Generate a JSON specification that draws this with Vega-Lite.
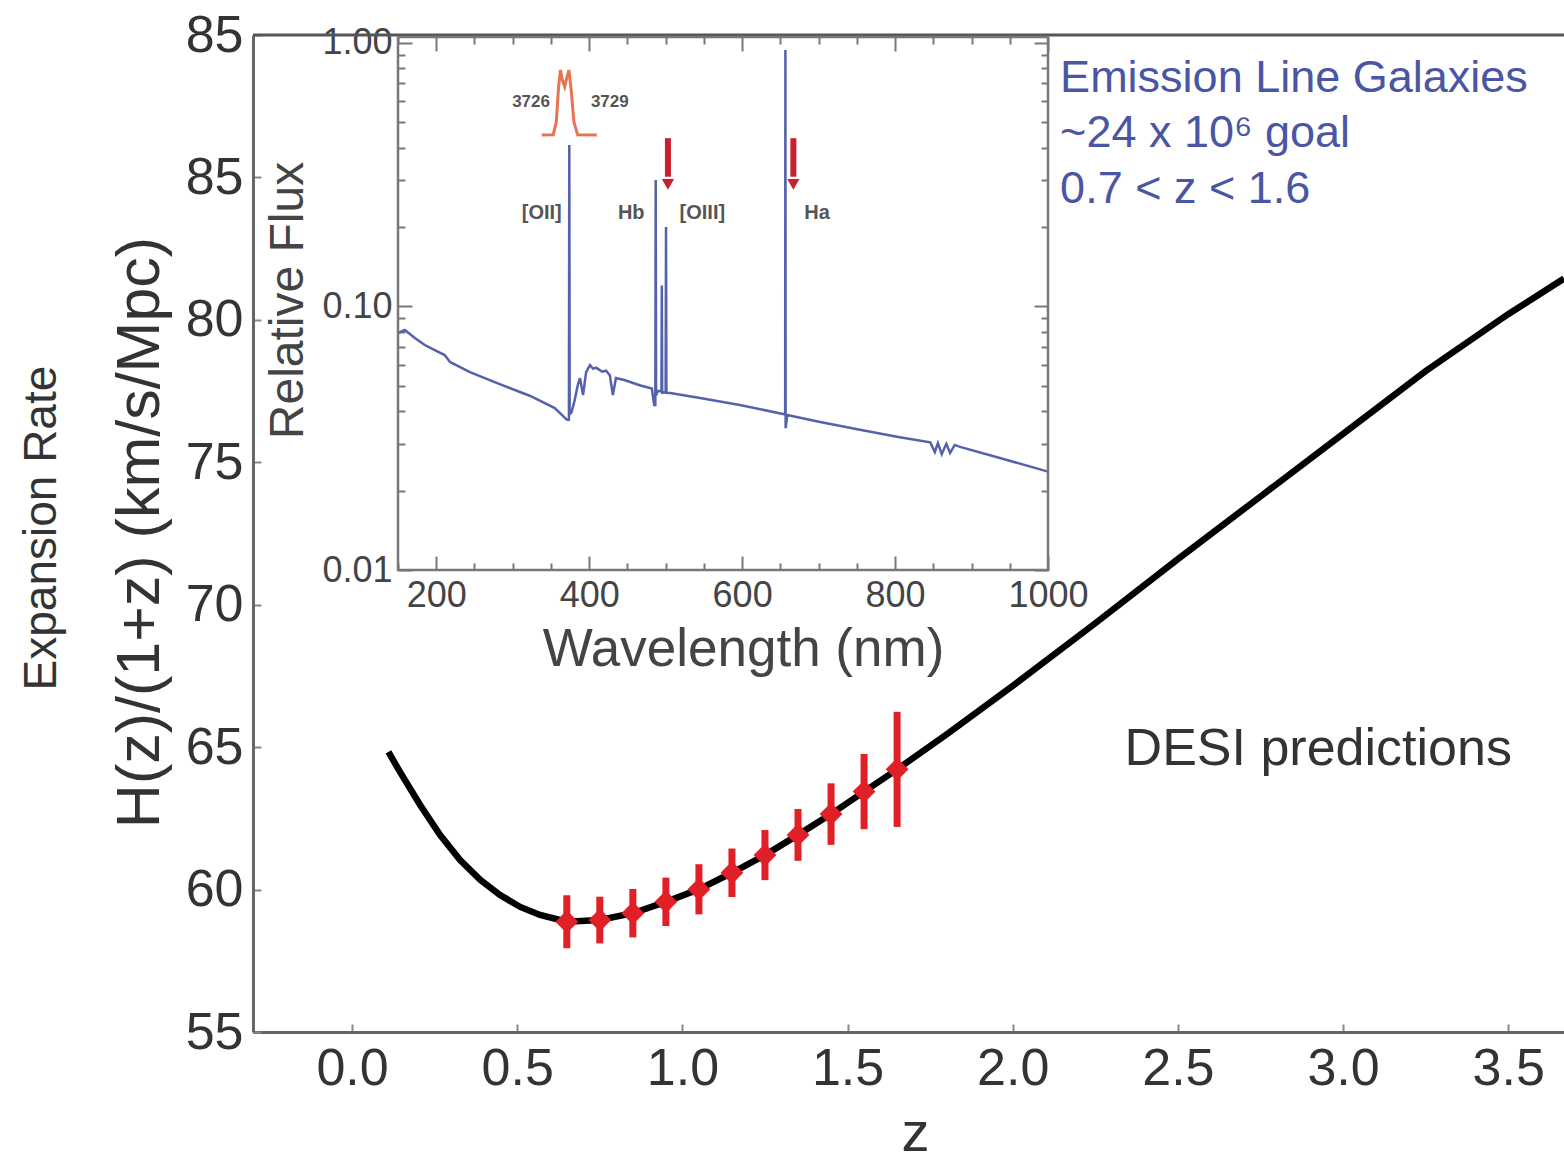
{
  "$schema": "https://vega.github.io/schema/vega-lite/v6.json",
  "width": 1311,
  "height": 997,
  "autosize": {"type": "none"},
  "padding": {"left": 253, "top": 35, "right": 0, "bottom": 130},
  "background": "white",
  "config": {
    "view": {"stroke": null},
    "font": "Liberation Sans",
    "axis": {"grid": false, "labelFont": "Liberation Sans", "titleFont": "Liberation Sans", "labelOverlap": false, "labelFlush": false, "titleFontWeight": "normal"}
  },
  "resolve": {"scale": {"x": "independent", "y": "independent"}, "axis": {"x": "independent", "y": "independent"}},
  "datasets": {
    "curve": [
      {"z": 0.11, "H": 64.83}, {"z": 0.145, "H": 64.13}, {"z": 0.206, "H": 62.97}, {"z": 0.266, "H": 61.92},
      {"z": 0.327, "H": 61.04}, {"z": 0.388, "H": 60.34}, {"z": 0.448, "H": 59.81}, {"z": 0.509, "H": 59.39},
      {"z": 0.569, "H": 59.11}, {"z": 0.65, "H": 58.87}, {"z": 0.75, "H": 58.93}, {"z": 0.85, "H": 59.17},
      {"z": 0.95, "H": 59.57}, {"z": 1.05, "H": 60.01}, {"z": 1.15, "H": 60.59}, {"z": 1.25, "H": 61.21},
      {"z": 1.35, "H": 61.92}, {"z": 1.45, "H": 62.65}, {"z": 1.55, "H": 63.44}, {"z": 1.65, "H": 64.22},
      {"z": 1.8, "H": 65.45}, {"z": 2.0, "H": 67.15}, {"z": 2.25, "H": 69.35}, {"z": 2.5, "H": 71.6},
      {"z": 2.75, "H": 73.8}, {"z": 3.0, "H": 76.0}, {"z": 3.25, "H": 78.2}, {"z": 3.5, "H": 80.2}, {"z": 3.669, "H": 81.45}
    ],
    "pts": [
      {"z": 0.65, "H": 58.87, "lo": 57.94, "hi": 59.80},
      {"z": 0.75, "H": 58.93, "lo": 58.11, "hi": 59.75},
      {"z": 0.85, "H": 59.17, "lo": 58.32, "hi": 60.02},
      {"z": 0.95, "H": 59.57, "lo": 58.72, "hi": 60.42},
      {"z": 1.05, "H": 60.01, "lo": 59.13, "hi": 60.89},
      {"z": 1.15, "H": 60.59, "lo": 59.74, "hi": 61.44},
      {"z": 1.25, "H": 61.21, "lo": 60.33, "hi": 62.09},
      {"z": 1.35, "H": 61.92, "lo": 61.01, "hi": 62.83},
      {"z": 1.45, "H": 62.65, "lo": 61.57, "hi": 63.73},
      {"z": 1.55, "H": 63.44, "lo": 62.12, "hi": 64.76},
      {"z": 1.65, "H": 64.22, "lo": 62.20, "hi": 66.24}
    ],
    "blue": [
      {"z": 2.1435, "H": 88.01, "label": "Emission Line Galaxies"},
      {"z": 2.1435, "H": 86.08, "label": "~24 x 10⁶ goal"},
      {"z": 2.1435, "H": 84.10, "label": "0.7 < z < 1.6"}
    ],
    "desi": [{"z": 2.925, "H": 64.37, "label": "DESI predictions"}],
    "exp": [{"z": -0.9385, "H": 72.69, "label": "Expansion Rate"}],
    "top": [{"H": 90}],
    "spec": [
      {"wl": 150, "flux": 0.0792}, {"wl": 159, "flux": 0.0813}, {"wl": 172, "flux": 0.0758}, {"wl": 185, "flux": 0.0713},
      {"wl": 198, "flux": 0.0682}, {"wl": 211, "flux": 0.0653}, {"wl": 218, "flux": 0.0615}, {"wl": 244, "flux": 0.0563},
      {"wl": 283, "flux": 0.0507}, {"wl": 323, "flux": 0.0457}, {"wl": 355, "flux": 0.0411}, {"wl": 371, "flux": 0.0371},
      {"wl": 373.5, "flux": 0.0371}, {"wl": 374, "flux": 0.409}, {"wl": 374.5, "flux": 0.039}, {"wl": 377, "flux": 0.0397},
      {"wl": 381, "flux": 0.044}, {"wl": 385, "flux": 0.05}, {"wl": 388, "flux": 0.0534}, {"wl": 392, "flux": 0.0461},
      {"wl": 396, "flux": 0.0563}, {"wl": 401, "flux": 0.0598}, {"wl": 405, "flux": 0.058}, {"wl": 409, "flux": 0.0585},
      {"wl": 413, "flux": 0.0575}, {"wl": 417, "flux": 0.0565}, {"wl": 422, "flux": 0.057}, {"wl": 427, "flux": 0.0548},
      {"wl": 431, "flux": 0.0461}, {"wl": 435, "flux": 0.0534}, {"wl": 447, "flux": 0.0524}, {"wl": 466, "flux": 0.0502},
      {"wl": 482, "flux": 0.0488}, {"wl": 485, "flux": 0.0422}, {"wl": 486.5, "flux": 0.0422}, {"wl": 487, "flux": 0.301},
      {"wl": 487.5, "flux": 0.046}, {"wl": 490, "flux": 0.0478}, {"wl": 494.5, "flux": 0.0475}, {"wl": 495, "flux": 0.12},
      {"wl": 495.5, "flux": 0.047}, {"wl": 500, "flux": 0.0472}, {"wl": 500.5, "flux": 0.2}, {"wl": 501, "flux": 0.047},
      {"wl": 506, "flux": 0.0469}, {"wl": 545, "flux": 0.0449}, {"wl": 597, "flux": 0.0422}, {"wl": 655, "flux": 0.039},
      {"wl": 656.3, "flux": 0.039}, {"wl": 656.6, "flux": 0.937}, {"wl": 656.9, "flux": 0.0345}, {"wl": 659, "flux": 0.0387},
      {"wl": 702, "flux": 0.0364}, {"wl": 754, "flux": 0.034}, {"wl": 806, "flux": 0.0319}, {"wl": 846, "flux": 0.0305},
      {"wl": 852, "flux": 0.028}, {"wl": 856, "flux": 0.0303}, {"wl": 861, "flux": 0.0275}, {"wl": 867, "flux": 0.0301},
      {"wl": 872, "flux": 0.0278}, {"wl": 878, "flux": 0.0298}, {"wl": 885, "flux": 0.0293}, {"wl": 937, "flux": 0.0266},
      {"wl": 1000, "flux": 0.0236}
    ],
    "doublet": [
      {"wl": 338, "flux": 0.446}, {"wl": 353, "flux": 0.447}, {"wl": 357, "flux": 0.5}, {"wl": 360, "flux": 0.68},
      {"wl": 362.5, "flux": 0.787}, {"wl": 365, "flux": 0.72}, {"wl": 368, "flux": 0.68}, {"wl": 371, "flux": 0.74},
      {"wl": 373.5, "flux": 0.787}, {"wl": 376.5, "flux": 0.66}, {"wl": 380, "flux": 0.5}, {"wl": 385, "flux": 0.447},
      {"wl": 410, "flux": 0.446}
    ],
    "arrows": [{"wl": 503, "flux": 0.434, "flux2": 0.31}, {"wl": 667, "flux": 0.434, "flux2": 0.31}],
    "heads": [{"wl": 503, "flux": 0.29}, {"wl": 667, "flux": 0.29}],
    "lineLabels": [
      {"wl": 338, "flux": 0.226, "label": "[OII]"},
      {"wl": 455, "flux": 0.226, "label": "Hb"},
      {"wl": 548, "flux": 0.226, "label": "[OIII]"},
      {"wl": 698, "flux": 0.226, "label": "Ha"}
    ],
    "dLabels": [
      {"wl": 324, "flux": 0.596, "label": "3726"},
      {"wl": 427, "flux": 0.596, "label": "3729"}
    ],
    "frame": [{"wl": 150, "wl2": 1000, "flux": 0.01, "flux2": 1.05}]
  },
  "layer": [
    {
      "layer": [
        {
          "data": {"name": "top"},
          "mark": {"type": "rule", "color": "#555", "strokeWidth": 3},
          "encoding": {
            "y": {"field": "H", "type": "quantitative", "scale": {"domain": [55, 90], "nice": false, "zero": false},
              "axis": {"orient": "left", "values": [55, 60, 65, 70, 75, 80, 85, 90], "labelExpr": "datum.value == 90 ? '85' : datum.label",
                "tickSize": -8, "tickColor": "#888", "tickWidth": 2, "domainColor": "#666", "domainWidth": 3,
                "labelFontSize": 52, "labelColor": "#333", "labelPadding": 18,
                "title": "H(z)/(1+z) (km/s/Mpc)", "titleFontSize": 61, "titleColor": "#333", "titleX": -113, "titleY": 497,
                "titleAngle": 270, "titleAlign": "center", "titleBaseline": "middle"}}
          }
        },
        {
          "data": {"name": "curve"},
          "mark": {"type": "line", "color": "black", "strokeWidth": 6.5},
          "encoding": {
            "x": {"field": "z", "type": "quantitative", "scale": {"domain": [-0.3, 3.669], "nice": false, "zero": false},
              "axis": {"orient": "bottom", "values": [0, 0.5, 1, 1.5, 2, 2.5, 3, 3.5], "format": ".1f",
                "tickSize": -8, "tickColor": "#888", "tickWidth": 2, "domainColor": "#666", "domainWidth": 3,
                "labelFontSize": 52, "labelColor": "#333", "labelPadding": 19,
                "title": "z", "titleFontSize": 56, "titleColor": "#333", "titleX": 662, "titleY": 118, "titleBaseline": "alphabetic", "titleAlign": "center"}},
            "y": {"field": "H", "type": "quantitative", "scale": {"domain": [55, 90], "nice": false, "zero": false}}
          }
        },
        {
          "data": {"name": "pts"},
          "mark": {"type": "rule", "color": "#e01f26", "strokeWidth": 7},
          "encoding": {
            "x": {"field": "z", "type": "quantitative", "scale": {"domain": [-0.3, 3.669], "nice": false, "zero": false}},
            "y": {"field": "lo", "type": "quantitative", "scale": {"domain": [55, 90], "nice": false, "zero": false}},
            "y2": {"field": "hi"}
          }
        },
        {
          "data": {"name": "pts"},
          "mark": {"type": "point", "shape": "diamond", "filled": true, "color": "#e01f26", "size": 520, "opacity": 1},
          "encoding": {
            "x": {"field": "z", "type": "quantitative", "scale": {"domain": [-0.3, 3.669], "nice": false, "zero": false}},
            "y": {"field": "H", "type": "quantitative", "scale": {"domain": [55, 90], "nice": false, "zero": false}}
          }
        },
        {
          "data": {"name": "blue"},
          "mark": {"type": "text", "align": "left", "baseline": "alphabetic", "fontSize": 45, "color": "#4a56a4"},
          "encoding": {
            "x": {"field": "z", "type": "quantitative", "scale": {"domain": [-0.3, 3.669], "nice": false, "zero": false}},
            "y": {"field": "H", "type": "quantitative", "scale": {"domain": [55, 90], "nice": false, "zero": false}},
            "text": {"field": "label", "type": "nominal"}
          }
        },
        {
          "data": {"name": "desi"},
          "mark": {"type": "text", "align": "center", "baseline": "alphabetic", "fontSize": 52, "color": "#333"},
          "encoding": {
            "x": {"field": "z", "type": "quantitative", "scale": {"domain": [-0.3, 3.669], "nice": false, "zero": false}},
            "y": {"field": "H", "type": "quantitative", "scale": {"domain": [55, 90], "nice": false, "zero": false}},
            "text": {"field": "label", "type": "nominal"}
          }
        },
        {
          "data": {"name": "exp"},
          "mark": {"type": "text", "align": "center", "baseline": "middle", "fontSize": 46, "color": "#333", "angle": 270},
          "encoding": {
            "x": {"field": "z", "type": "quantitative", "scale": {"domain": [-0.3, 3.669], "nice": false, "zero": false}},
            "y": {"field": "H", "type": "quantitative", "scale": {"domain": [55, 90], "nice": false, "zero": false}},
            "text": {"field": "label", "type": "nominal"}
          }
        }
      ]
    },
    {
      "encoding": {
        "x": {"field": "wl", "type": "quantitative", "scale": {"domain": [150, 1000], "range": [145, 795], "nice": false, "zero": false},
          "axis": {"orient": "bottom", "offset": -462, "values": [200, 400, 600, 800, 1000], "format": "d",
            "tickSize": -14, "tickColor": "#777", "tickWidth": 2, "domain": false,
            "labelFontSize": 36, "labelColor": "#444", "labelPadding": 22,
            "title": "Wavelength (nm)", "titleFontSize": 53, "titleColor": "#444", "titleX": 490, "titleY": 95, "titleBaseline": "alphabetic", "titleAlign": "center"}},
        "y": {"field": "flux", "type": "quantitative", "scale": {"type": "log", "domain": [0.01, 1.05], "range": [535, 2], "nice": false, "zero": false},
          "axis": {"orient": "left", "offset": -145, "values": [0.01, 0.1, 1], "format": ".2f",
            "tickSize": -14, "tickColor": "#777", "tickWidth": 2, "domain": false,
            "labelFontSize": 36, "labelColor": "#444", "labelPadding": 20,
            "title": "Relative Flux", "titleFontSize": 48, "titleColor": "#444", "titleX": -110, "titleY": 265,
            "titleAngle": 270, "titleAlign": "center", "titleBaseline": "middle"}}
      },
      "layer": [
        {"data": {"name": "spec"}, "mark": {"type": "line", "color": "#5561aa", "strokeWidth": 2.5}},
        {"data": {"name": "doublet"}, "mark": {"type": "line", "color": "#e8734f", "strokeWidth": 3}},
        {"data": {"name": "arrows"}, "mark": {"type": "rule", "color": "#c8202e", "strokeWidth": 6}, "encoding": {"y2": {"field": "flux2"}}},
        {"data": {"name": "heads"}, "mark": {"type": "point", "shape": "triangle-down", "filled": true, "color": "#c8202e", "size": 150, "opacity": 1}},
        {"data": {"name": "lineLabels"}, "mark": {"type": "text", "fontSize": 20, "color": "#555", "fontWeight": "bold", "align": "center", "baseline": "middle"}, "encoding": {"text": {"field": "label", "type": "nominal"}}},
        {"data": {"name": "dLabels"}, "mark": {"type": "text", "fontSize": 17, "color": "#555", "fontWeight": "bold", "align": "center", "baseline": "middle"}, "encoding": {"text": {"field": "label", "type": "nominal"}}}
      ]
    },
    {
      "data": {"name": "frame"},
      "mark": {"type": "rect", "fillOpacity": 0, "stroke": "#777", "strokeWidth": 2.5},
      "encoding": {
        "x": {"field": "wl", "type": "quantitative", "scale": {"domain": [150, 1000], "range": [145, 795], "nice": false, "zero": false},
          "axis": {"orient": "top", "offset": -2, "values": [200, 400, 600, 800, 1000], "tickSize": -14, "tickColor": "#777", "tickWidth": 2, "labels": false, "domain": false, "title": null}},
        "x2": {"field": "wl2"},
        "y": {"field": "flux", "type": "quantitative", "scale": {"type": "log", "domain": [0.01, 1.05], "range": [535, 2], "nice": false, "zero": false},
          "axis": {"orient": "right", "offset": -516, "values": [0.01, 0.1, 1], "tickSize": -14, "tickColor": "#777", "tickWidth": 2, "labels": false, "domain": false, "title": null}},
        "y2": {"field": "flux2"}
      }
    },
    {
      "data": {"name": "frame"},
      "mark": {"type": "point", "opacity": 0},
      "encoding": {
        "x": {"field": "wl", "type": "quantitative", "scale": {"domain": [150, 1000], "range": [145, 795], "nice": false, "zero": false},
          "axis": {"orient": "bottom", "offset": -462, "values": [150, 250, 300, 350, 450, 500, 550, 650, 700, 750, 850, 900, 950], "tickSize": -7, "tickColor": "#777", "tickWidth": 2, "labels": false, "domain": false, "title": null}},
        "y": {"field": "flux", "type": "quantitative", "scale": {"type": "log", "domain": [0.01, 1.05], "range": [535, 2], "nice": false, "zero": false},
          "axis": {"orient": "left", "offset": -145, "values": [0.02, 0.03, 0.04, 0.05, 0.06, 0.07, 0.08, 0.09, 0.2, 0.3, 0.4, 0.5, 0.6, 0.7, 0.8, 0.9], "tickSize": -7, "tickColor": "#777", "tickWidth": 2, "labels": false, "domain": false, "title": null}}
      }
    },
    {
      "data": {"name": "frame"},
      "mark": {"type": "point", "opacity": 0},
      "encoding": {
        "x": {"field": "wl", "type": "quantitative", "scale": {"domain": [150, 1000], "range": [145, 795], "nice": false, "zero": false},
          "axis": {"orient": "top", "offset": -2, "values": [150, 250, 300, 350, 450, 500, 550, 650, 700, 750, 850, 900, 950], "tickSize": -7, "tickColor": "#777", "tickWidth": 2, "labels": false, "domain": false, "title": null}},
        "y": {"field": "flux", "type": "quantitative", "scale": {"type": "log", "domain": [0.01, 1.05], "range": [535, 2], "nice": false, "zero": false},
          "axis": {"orient": "right", "offset": -516, "values": [0.02, 0.03, 0.04, 0.05, 0.06, 0.07, 0.08, 0.09, 0.2, 0.3, 0.4, 0.5, 0.6, 0.7, 0.8, 0.9], "tickSize": -7, "tickColor": "#777", "tickWidth": 2, "labels": false, "domain": false, "title": null}}
      }
    }
  ]
}
